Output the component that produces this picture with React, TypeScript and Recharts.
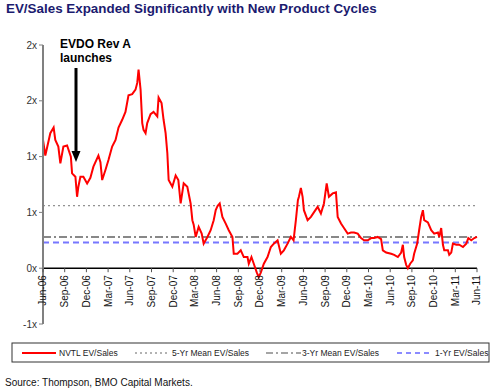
import React from 'react';
import { LineChart, Line, XAxis, YAxis, ReferenceLine } from 'recharts';

// months since Jun-06 (x) and NVTL EV/Sales multiple (y)
const months = [
  0, 0.32, 1.01, 1.47, 1.7, 2.12, 2.4, 2.82, 3.33, 3.85, 4.02, 4.48, 4.71, 4.89, 5.17, 5.58,
  6.1, 6.55, 6.97, 7.66, 7.94, 8.18, 8.63, 9.05, 9.56, 10.03, 10.44, 10.95, 11.4, 11.82,
  12.33, 12.79, 13.03, 13.21, 13.49, 13.72, 13.9, 14.18, 14.41, 14.87, 15.28, 15.8, 15.98,
  16.39, 16.67, 16.95, 17.19, 17.37, 17.88, 18.34, 18.71, 19.03, 19.45, 19.95, 20.41, 20.65,
  20.83, 21.11, 21.52, 21.94, 22.21, 22.73, 23.18, 23.6, 23.88, 24.15, 24.43, 24.8, 25.26,
  25.68, 26.19, 26.37, 26.88, 27.34, 27.76, 28.27, 28.45, 28.82, 29.14, 29.56, 29.83, 30.11,
  30.53, 31.04, 31.5, 31.91, 32.43, 32.88, 33.3, 33.81, 34.27, 34.64, 34.96, 35.24, 35.38,
  35.65, 35.89, 36.07, 36.58, 37.04, 37.45, 37.97, 38.42, 38.84, 39.22, 39.53, 40.05, 40.5,
  40.74, 41.2, 41.61, 42.12, 42.58, 43.0, 43.51, 43.97, 44.39, 44.9, 45.36, 45.77, 46.28,
  46.74, 46.98, 47.44, 48.13, 48.55, 49.06, 49.52, 49.75, 49.93, 50.21, 50.44, 50.76, 51.13,
  51.31, 51.73, 52.0, 52.28, 52.52, 52.7, 53.21, 53.67, 54.08, 54.6, 54.78, 55.05, 55.29,
  55.47, 55.98, 56.16, 56.44, 56.67, 57.13, 57.55, 58.06, 58.52, 58.8, 59.21, 59.63, 60,
];
const evSales = [
  1.15, 1.01, 1.21, 1.26, 1.15, 1.09, 0.94, 1.09, 1.1, 1.0, 0.85, 0.82, 0.64, 0.73, 0.82, 0.82,
  0.76, 0.81, 0.91, 1.01, 0.95, 0.79, 0.88, 0.97, 1.09, 1.15, 1.26, 1.33, 1.4, 1.55,
  1.56, 1.6, 1.66, 1.78, 1.6, 1.3, 1.24, 1.21, 1.3, 1.38, 1.4, 1.36, 1.53,
  1.48, 1.33, 1.21, 1.03, 0.79, 0.73, 0.83, 0.79, 0.58, 0.76, 0.73, 0.58, 0.43,
  0.39, 0.28, 0.37, 0.31, 0.22, 0.28, 0.34, 0.43, 0.52, 0.56, 0.58, 0.46, 0.4,
  0.34, 0.28, 0.13, 0.13, 0.16, 0.1, 0.1, 0.04, 0.1, 0.04, -0.04, -0.08, -0.04,
  0.04, 0.1, 0.19, 0.22, 0.25, 0.13, 0.16, 0.22, 0.28, 0.25, 0.43, 0.61, 0.64,
  0.72, 0.64, 0.52, 0.43, 0.46, 0.5, 0.55, 0.49, 0.58, 0.76, 0.64, 0.67, 0.68,
  0.46, 0.4, 0.36, 0.31, 0.32, 0.32, 0.31, 0.27, 0.25, 0.25, 0.27, 0.27, 0.28,
  0.26, 0.16, 0.14, 0.13, 0.12, 0.1, 0.14, 0.21, 0.1, 0.03, 0.0, 0.04, 0.07,
  0.13, 0.22, 0.34, 0.46, 0.52, 0.43, 0.41, 0.34, 0.31, 0.32, 0.28, 0.36, 0.21,
  0.16, 0.16, 0.12, 0.14, 0.22, 0.21, 0.21, 0.19, 0.22, 0.27, 0.25, 0.27, 0.28,
];

const tickMonths = [0, 3, 6, 9, 12, 15, 18, 21, 24, 27, 30, 33, 36, 39, 42, 45, 48, 51, 54, 57, 60];
const tickLabels = [
  'Jun-06', 'Sep-06', 'Dec-06', 'Mar-07', 'Jun-07', 'Sep-07', 'Dec-07', 'Mar-08', 'Jun-08',
  'Sep-08', 'Dec-08', 'Mar-09', 'Jun-09', 'Sep-09', 'Dec-09', 'Mar-10', 'Jun-10', 'Sep-10',
  'Dec-10', 'Mar-11', 'Jun-11',
];
const yTicks = [-0.5, 0, 0.5, 1, 1.5, 2];

const fiveYrMean = 0.56;
const threeYrMean = 0.28;
const oneYrMean = 0.23;

const data = months.map((m, i) => ({ m, ev: evSales[i] }));

const FONT = '"Liberation Sans", Arial, sans-serif';
const Y_MIN = -0.5;
const Y_MAX = 2;
const PLOT_H = 279;
// distance from the plot bottom up to the zero line, where the dates hang
const ZERO_SHIFT = (PLOT_H * (0 - Y_MIN)) / (Y_MAX - Y_MIN);

const fmtY = (v: number) => {
  const r = Math.sign(v) * Math.round(Math.abs(v));
  return `${r}x`;
};

const renderDateTick = (props: any) => {
  const { x, payload } = props;
  const y0 = 45 + PLOT_H - ZERO_SHIFT;
  const idx = tickMonths.indexOf(payload.value);
  return (
    <g key={`t-${payload.value}`}>
      <line x1={x} x2={x} y1={y0} y2={y0 + 4} stroke="#555" strokeWidth={1} />
      <text
        x={x + 3.5}
        y={y0 + 7}
        transform={`rotate(-90 ${x + 3.5} ${y0 + 7})`}
        textAnchor="end"
        fontSize={10}
        fontFamily={FONT}
        fill="#111"
      >
        {tickLabels[idx]}
      </text>
    </g>
  );
};

const legendItems = [
  { label: 'NVTL EV/Sales', color: '#ff0000', dash: undefined, width: 2, x1: 22, x2: 56, tx: 59 },
  { label: '5-Yr Mean EV/Sales', color: '#666', dash: '2 3', width: 1, x1: 135, x2: 170, tx: 172 },
  { label: '3-Yr Mean EV/Sales', color: '#888', dash: '7 3 2 3', width: 1.5, x1: 266, x2: 301, tx: 302 },
  { label: '1-Yr EV/Sales', color: '#6666ff', dash: '5 4', width: 1.5, x1: 397, x2: 432, tx: 435 },
];

export default function App() {
  return (
    <div style={{ position: 'absolute', left: 0, top: 0, width: 500, height: 391, background: '#fff', fontFamily: FONT }}>
      <div style={{ position: 'absolute', left: 6, top: 1, fontSize: 13.4, fontWeight: 'bold', color: '#1b1b6f', whiteSpace: 'nowrap' }}>
        EV/Sales Expanded Significantly with New Product Cycles
      </div>

      <LineChart width={500} height={391} data={data} margin={{ top: 45, right: 23, bottom: 47, left: 0 }}>
        <XAxis
          type="number"
          dataKey="m"
          domain={[0, 60]}
          ticks={tickMonths}
          height={20}
          axisLine={false}
          tickLine={false}
          tick={renderDateTick}
          interval={0}
        />
        <YAxis
          type="number"
          domain={[Y_MIN, Y_MAX]}
          ticks={yTicks}
          width={43}
          tickFormatter={fmtY}
          axisLine={{ stroke: '#808080', strokeWidth: 2 }}
          tickLine={{ stroke: '#808080' }}
          tickSize={4}
          tick={{ fontSize: 10, fill: '#333', fontFamily: FONT }}
          interval={0}
        />
        <ReferenceLine y={fiveYrMean} stroke="#777" strokeDasharray="2 3" strokeWidth={1} />
        <ReferenceLine y={threeYrMean} stroke="#888" strokeDasharray="8 3 2 3" strokeWidth={2} />
        <ReferenceLine y={oneYrMean} stroke="#7777ff" strokeDasharray="6 4" strokeWidth={2} />
        <ReferenceLine y={0} stroke="#000" strokeWidth={1.5} />
        <Line
          type="linear"
          dataKey="ev"
          stroke="#ff0000"
          strokeWidth={2}
          dot={false}
          isAnimationActive={false}
        />
      </LineChart>

      <div style={{ position: 'absolute', left: 60, top: 37, fontSize: 12, fontWeight: 'bold', color: '#000', lineHeight: '14px' }}>
        EVDO Rev A
        <br />
        launches
      </div>
      <svg style={{ position: 'absolute', left: 0, top: 0 }} width={500} height={391} pointerEvents="none">
        <line x1={76} x2={76} y1={68} y2={152} stroke="#000" strokeWidth={3} />
        <polygon points="71.5,151 80.5,151 76,162" fill="#000" />

        <rect x={12} y={343} width={477} height={19} fill="#fff" stroke="#333" strokeWidth={1} />
        {legendItems.map((it) => (
          <g key={it.label}>
            <line x1={it.x1} x2={it.x2} y1={353} y2={353} stroke={it.color} strokeWidth={it.width} strokeDasharray={it.dash} />
            <text x={it.tx} y={356} fontSize={8.5} fontFamily={FONT} fill="#222">
              {it.label}
            </text>
          </g>
        ))}
        <text x={5} y={386} fontSize={10} fontFamily={FONT} fill="#111">
          Source: Thompson, BMO Capital Markets.
        </text>
      </svg>
    </div>
  );
}
